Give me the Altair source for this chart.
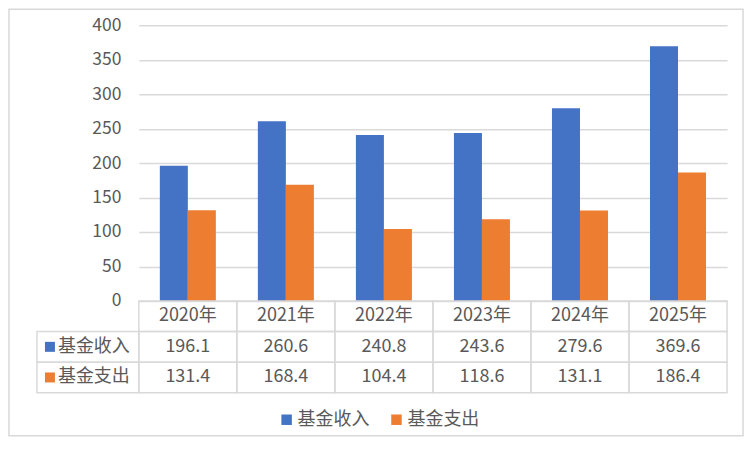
import altair as alt
import pandas as pd

years = ["2020年", "2021年", "2022年", "2023年", "2024年", "2025年"]
series = ["基金收入", "基金支出"]
income = [196.1, 260.6, 240.8, 243.6, 279.6, 369.6]
expense = [131.4, 168.4, 104.4, 118.6, 131.1, 186.4]
y_ticks = [0, 50, 100, 150, 200, 250, 300, 350, 400]
colors = ["#4472C4", "#ED7D31"]

FONT = "Noto Sans CJK SC"
GREY = "#595959"
LINE = "#d9d9d9"

# long table for the bars
bars = pd.DataFrame({
    "year": years * 2,
    "series": [series[0]] * len(years) + [series[1]] * len(years),
    "value": income + expense,
})
bars["label"] = bars["value"].map("{:.1f}".format)

# data table under the chart: header row + one row per series
header = pd.DataFrame({"year": years, "row": "年份", "label": years})
body = bars.rename(columns={"series": "row"})[["year", "row", "label"]]
cells = pd.concat([header, body], ignore_index=True)
side = pd.DataFrame({"row": series, "series": series})

color_scale = alt.Scale(domain=series, range=colors)
x_scale = alt.Scale(domain=years, paddingInner=0, paddingOuter=0)
row_scale = alt.Scale(domain=["年份"] + series, paddingInner=0, paddingOuter=0)

bar_chart = alt.Chart(bars).mark_bar().encode(
    x=alt.X("year:N", scale=x_scale, axis=None),
    xOffset=alt.XOffset("series:N", scale=alt.Scale(domain=series, paddingInner=0, paddingOuter=0.75)),
    y=alt.Y("value:Q", scale=alt.Scale(domain=[0, 400]),
            axis=alt.Axis(values=y_ticks, title=None, domain=False, ticks=False,
                          labelPadding=18, labelFont=FONT, labelFontSize=17.5, labelColor=GREY,
                          gridColor=LINE, gridWidth=1.5)),
    color=alt.Color("series:N", scale=color_scale,
                    legend=alt.Legend(title=None, orient="none", legendX=139, legendY=386,
                                      direction="horizontal", symbolType="square", symbolSize=110,
                                      symbolStrokeWidth=0, labelFont=FONT, labelFontSize=18,
                                      labelColor=GREY, labelOffset=2, columnPadding=18)),
)

# light frame round the whole chart area (kept inside the page so nothing scrolls)
frame = alt.Chart(pd.DataFrame({"a": [0]})).mark_rect(fillOpacity=0, stroke=LINE, strokeWidth=1.5).encode(
    x=alt.value(-130), x2=alt.value(605), y=alt.value(-16), y2=alt.value(411)
)

top = alt.layer(frame, bar_chart).properties(width=589, height=276)

t_base = alt.Chart(cells).encode(
    x=alt.X("year:N", scale=x_scale, axis=None),
    y=alt.Y("row:N", scale=row_scale, axis=None),
)
t_grid = t_base.mark_rect(fillOpacity=0, stroke=LINE, strokeWidth=1.5)
t_text = t_base.mark_text(font=FONT, fontSize=18, color=GREY).encode(text="label:N")

s_base = alt.Chart(side).encode(y=alt.Y("row:N", scale=row_scale, axis=None))
s_box = s_base.mark_rect(fillOpacity=0, stroke=LINE, strokeWidth=1.5).encode(
    x=alt.value(-102), x2=alt.value(0)
)
s_key = s_base.mark_square(size=100, opacity=1).encode(
    x=alt.value(-89),
    color=alt.Color("series:N", scale=color_scale, legend=None),
)
s_text = s_base.mark_text(font=FONT, fontSize=18, color=GREY, align="left").encode(
    x=alt.value(-81), text="row:N"
)

table = alt.layer(t_grid, t_text, s_box, s_key, s_text).properties(width=589, height=92)

chart = alt.vconcat(top, table, spacing=0, bounds="flush").properties(
    padding=0
).configure_view(stroke=None)

chart.save("out.html", embed_options={"renderer": "svg", "actions": False})
